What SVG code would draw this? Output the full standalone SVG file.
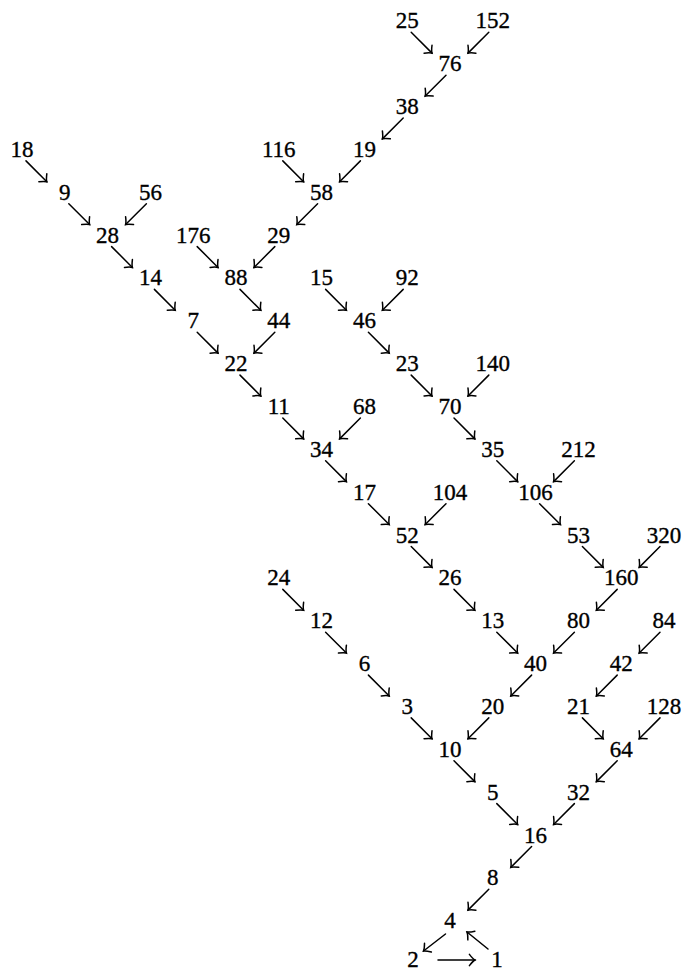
<svg xmlns="http://www.w3.org/2000/svg" width="686" height="974" viewBox="0 0 686 974">
<style>
text{font-family:"Liberation Serif","DejaVu Serif",serif;font-size:23px;fill:#000;stroke:#000;stroke-width:0.35;text-anchor:middle}
.e line{stroke:#000;stroke-width:1.5;stroke-linecap:round;fill:none;marker-end:url(#ah)}
</style>
<defs>
<marker id="ah" markerUnits="userSpaceOnUse" markerWidth="16" markerHeight="16" viewBox="-8 -8 16 16" refX="0" refY="0" orient="auto">
<path d="M-5.6,-5.6 Q-2.2,-1.2 0,0 Q-2.2,1.2 -5.6,5.6" fill="none" stroke="#000" stroke-width="1.5" stroke-linecap="round"/>
</marker>
</defs>
<rect width="686" height="974" fill="#fff"/>
<g id="nodes">
<g id="n25"><text x="407.2" y="28.3">25</text></g>
<g id="n152"><text x="492.8" y="28.3">152</text></g>
<g id="n76"><text x="450" y="71.2">76</text></g>
<g id="n38"><text x="407.2" y="114">38</text></g>
<g id="n18"><text x="22" y="156.9">18</text></g>
<g id="n116"><text x="278.8" y="156.9">116</text></g>
<g id="n19"><text x="364.4" y="156.9">19</text></g>
<g id="n9"><text x="64.8" y="199.7">9</text></g>
<g id="n56"><text x="150.4" y="199.7">56</text></g>
<g id="n58"><text x="321.6" y="199.7">58</text></g>
<g id="n28"><text x="107.6" y="242.6">28</text></g>
<g id="n176"><text x="193.2" y="242.6">176</text></g>
<g id="n29"><text x="278.8" y="242.6">29</text></g>
<g id="n14"><text x="150.4" y="285.4">14</text></g>
<g id="n88"><text x="236" y="285.4">88</text></g>
<g id="n15"><text x="321.6" y="285.4">15</text></g>
<g id="n92"><text x="407.2" y="285.4">92</text></g>
<g id="n7"><text x="193.2" y="328.3">7</text></g>
<g id="n44"><text x="278.8" y="328.3">44</text></g>
<g id="n46"><text x="364.4" y="328.3">46</text></g>
<g id="n22"><text x="236" y="371.1">22</text></g>
<g id="n23"><text x="407.2" y="371.1">23</text></g>
<g id="n140"><text x="492.8" y="371.1">140</text></g>
<g id="n11"><text x="278.8" y="414">11</text></g>
<g id="n68"><text x="364.4" y="414">68</text></g>
<g id="n70"><text x="450" y="414">70</text></g>
<g id="n34"><text x="321.6" y="456.8">34</text></g>
<g id="n35"><text x="492.8" y="456.8">35</text></g>
<g id="n212"><text x="578.4" y="456.8">212</text></g>
<g id="n17"><text x="364.4" y="499.7">17</text></g>
<g id="n104"><text x="450" y="499.7">104</text></g>
<g id="n106"><text x="535.6" y="499.7">106</text></g>
<g id="n52"><text x="407.2" y="542.5">52</text></g>
<g id="n53"><text x="578.4" y="542.5">53</text></g>
<g id="n320"><text x="664" y="542.5">320</text></g>
<g id="n24"><text x="278.8" y="585.4">24</text></g>
<g id="n26"><text x="450" y="585.4">26</text></g>
<g id="n160"><text x="621.2" y="585.4">160</text></g>
<g id="n12"><text x="321.6" y="628.2">12</text></g>
<g id="n13"><text x="492.8" y="628.2">13</text></g>
<g id="n80"><text x="578.4" y="628.2">80</text></g>
<g id="n84"><text x="664" y="628.2">84</text></g>
<g id="n6"><text x="364.4" y="671.1">6</text></g>
<g id="n40"><text x="535.6" y="671.1">40</text></g>
<g id="n42"><text x="621.2" y="671.1">42</text></g>
<g id="n3"><text x="407.2" y="713.9">3</text></g>
<g id="n20"><text x="492.8" y="713.9">20</text></g>
<g id="n21"><text x="578.4" y="713.9">21</text></g>
<g id="n128"><text x="664" y="713.9">128</text></g>
<g id="n10"><text x="450" y="756.8">10</text></g>
<g id="n64"><text x="621.2" y="756.8">64</text></g>
<g id="n5"><text x="492.8" y="799.6">5</text></g>
<g id="n32"><text x="578.4" y="799.6">32</text></g>
<g id="n16"><text x="535.6" y="842.5">16</text></g>
<g id="n8"><text x="492.8" y="885.3">8</text></g>
<g id="n4"><text x="450" y="928.2">4</text></g>
<g id="n2"><text x="413" y="967">2</text></g>
<g id="n1"><text x="497" y="967">1</text></g>
</g>
<g id="connectors" class="e">
<line x1="411.2" y1="32.3" x2="432" y2="53.15"/>
<line x1="488.8" y1="32.3" x2="468" y2="53.15"/>
<line x1="446" y1="75.2" x2="425.2" y2="96.05"/>
<line x1="403.2" y1="118" x2="382.4" y2="138.85"/>
<line x1="360.4" y1="160.9" x2="339.6" y2="181.75"/>
<line x1="282.8" y1="160.9" x2="303.6" y2="181.75"/>
<line x1="317.6" y1="203.7" x2="296.8" y2="224.55"/>
<line x1="274.8" y1="246.6" x2="254" y2="267.45"/>
<line x1="197.2" y1="246.6" x2="218" y2="267.45"/>
<line x1="240" y1="289.4" x2="260.8" y2="310.25"/>
<line x1="274.8" y1="332.3" x2="254" y2="353.15"/>
<line x1="26" y1="160.9" x2="46.8" y2="181.75"/>
<line x1="68.8" y1="203.7" x2="89.6" y2="224.55"/>
<line x1="146.4" y1="203.7" x2="125.6" y2="224.55"/>
<line x1="111.6" y1="246.6" x2="132.4" y2="267.45"/>
<line x1="154.4" y1="289.4" x2="175.2" y2="310.25"/>
<line x1="197.2" y1="332.3" x2="218" y2="353.15"/>
<line x1="240" y1="375.1" x2="260.8" y2="395.95"/>
<line x1="282.8" y1="418" x2="303.6" y2="438.85"/>
<line x1="360.4" y1="418" x2="339.6" y2="438.85"/>
<line x1="325.6" y1="460.8" x2="346.4" y2="481.65"/>
<line x1="368.4" y1="503.7" x2="389.2" y2="524.55"/>
<line x1="446" y1="503.7" x2="425.2" y2="524.55"/>
<line x1="411.2" y1="546.5" x2="432" y2="567.35"/>
<line x1="454" y1="589.4" x2="474.8" y2="610.25"/>
<line x1="496.8" y1="632.2" x2="517.6" y2="653.05"/>
<line x1="325.6" y1="289.4" x2="346.4" y2="310.25"/>
<line x1="403.2" y1="289.4" x2="382.4" y2="310.25"/>
<line x1="368.4" y1="332.3" x2="389.2" y2="353.15"/>
<line x1="411.2" y1="375.1" x2="432" y2="395.95"/>
<line x1="488.8" y1="375.1" x2="468" y2="395.95"/>
<line x1="454" y1="418" x2="474.8" y2="438.85"/>
<line x1="496.8" y1="460.8" x2="517.6" y2="481.65"/>
<line x1="574.4" y1="460.8" x2="553.6" y2="481.65"/>
<line x1="539.6" y1="503.7" x2="560.4" y2="524.55"/>
<line x1="582.4" y1="546.5" x2="603.2" y2="567.35"/>
<line x1="660" y1="546.5" x2="639.2" y2="567.35"/>
<line x1="617.2" y1="589.4" x2="596.4" y2="610.25"/>
<line x1="574.4" y1="632.2" x2="553.6" y2="653.05"/>
<line x1="531.6" y1="675.1" x2="510.8" y2="695.95"/>
<line x1="488.8" y1="717.9" x2="468" y2="738.75"/>
<line x1="282.8" y1="589.4" x2="303.6" y2="610.25"/>
<line x1="325.6" y1="632.2" x2="346.4" y2="653.05"/>
<line x1="368.4" y1="675.1" x2="389.2" y2="695.95"/>
<line x1="411.2" y1="717.9" x2="432" y2="738.75"/>
<line x1="454" y1="760.8" x2="474.8" y2="781.65"/>
<line x1="496.8" y1="803.6" x2="517.6" y2="824.45"/>
<line x1="660" y1="632.2" x2="639.2" y2="653.05"/>
<line x1="617.2" y1="675.1" x2="596.4" y2="695.95"/>
<line x1="582.4" y1="717.9" x2="603.2" y2="738.75"/>
<line x1="660" y1="717.9" x2="639.2" y2="738.75"/>
<line x1="617.2" y1="760.8" x2="596.4" y2="781.65"/>
<line x1="574.4" y1="803.6" x2="553.6" y2="824.45"/>
<line x1="531.6" y1="846.5" x2="510.8" y2="867.35"/>
<line x1="488.8" y1="889.3" x2="468" y2="910.15"/>
<line x1="445.5" y1="934" x2="423.5" y2="951"/>
<line x1="438" y1="960" x2="475" y2="960"/>
<line x1="488" y1="949" x2="467" y2="932"/>
</g>
</svg>
